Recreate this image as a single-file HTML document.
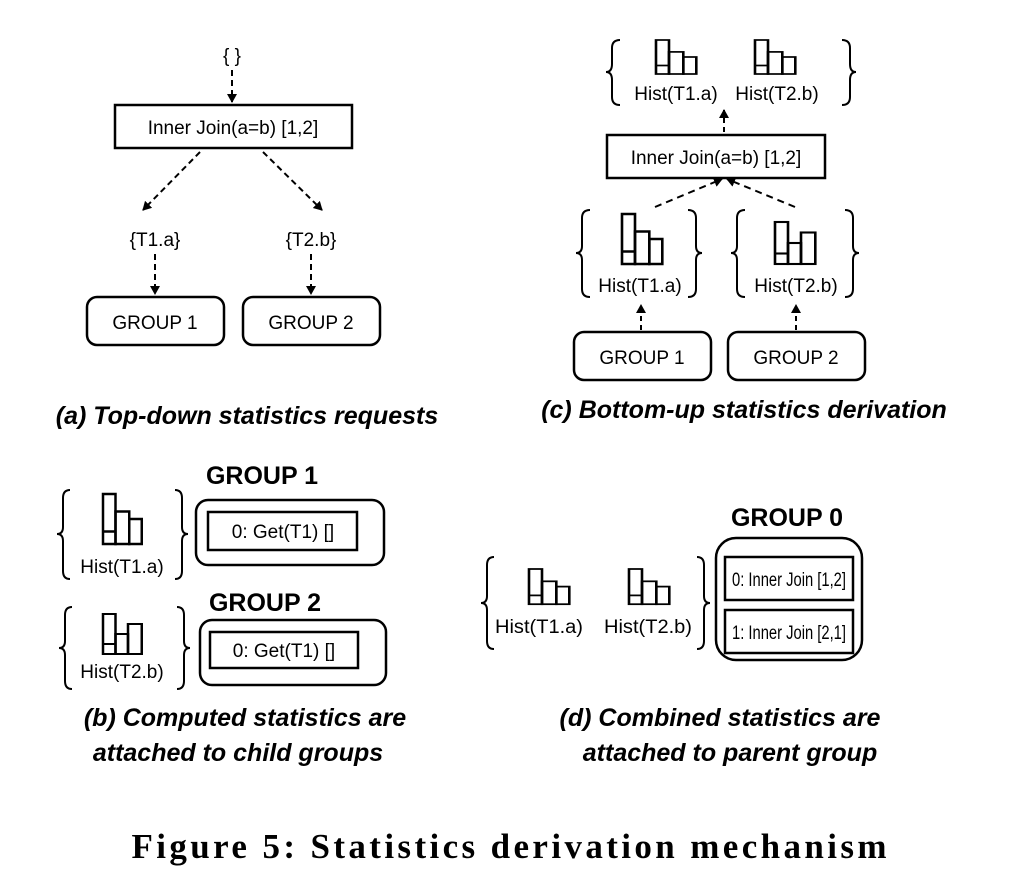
<!DOCTYPE html>
<html><head><meta charset="utf-8"><style>
html,body{margin:0;padding:0;background:#fff}
svg{display:block}
text{font-family:"Liberation Sans",sans-serif;fill:#000}
.l{font-size:19px;text-anchor:middle}
.cap{font-size:25px;font-weight:bold;font-style:italic;text-anchor:middle}
.g{font-size:25px;font-weight:bold;text-anchor:middle}
</style></head><body>
<svg width="1018" height="896" viewBox="0 0 1018 896" xmlns="http://www.w3.org/2000/svg">
<defs>
<marker id="ar" markerWidth="12" markerHeight="12" refX="8" refY="5" orient="auto" markerUnits="userSpaceOnUse">
<path d="M0,0 L9,5 L0,10 Z" fill="#000"/></marker>
<g id="h1" fill="none" stroke="#000" stroke-width="2">
<rect x="0" y="0" width="10" height="40"/><rect x="10" y="14" width="11" height="26"/><rect x="21" y="20" width="10" height="20"/><line x1="0" y1="30" x2="10" y2="30"/></g>
<g id="h2" fill="none" stroke="#000" stroke-width="2">
<rect x="0" y="0" width="10" height="40"/><rect x="10" y="20" width="10" height="20"/><rect x="20" y="10" width="11" height="30"/><line x1="0" y1="30" x2="10" y2="30"/></g>
</defs>
<g fill="none" stroke="#000" stroke-width="2">
<line x1="232" y1="70" x2="232" y2="102" stroke-dasharray="6,4" marker-end="url(#ar)"/>
<rect x="115" y="105" width="237" height="43" stroke-width="2.5"/>
<line x1="200" y1="152" x2="143" y2="210" stroke-dasharray="6,4" marker-end="url(#ar)"/>
<line x1="263" y1="152" x2="322" y2="210" stroke-dasharray="6,4" marker-end="url(#ar)"/>
<line x1="155" y1="254" x2="155" y2="294" stroke-dasharray="6,4" marker-end="url(#ar)"/>
<line x1="311" y1="254" x2="311" y2="294" stroke-dasharray="6,4" marker-end="url(#ar)"/>
<rect x="87" y="297" width="137" height="48" rx="10" stroke-width="2.5"/>
<rect x="243" y="297" width="137" height="48" rx="10" stroke-width="2.5"/>
<path d="M620,40 Q612,40 612,48 L612,64 Q612,72 606,72 Q612,72 612,80 L612,97 Q612,105 620,105"/>
<path d="M842,40 Q850,40 850,48 L850,64 Q850,72 856,72 Q850,72 850,80 L850,97 Q850,105 842,105"/>
<line x1="724" y1="132" x2="724" y2="110" stroke-dasharray="5,4" marker-end="url(#ar)"/>
<rect x="607" y="135" width="218" height="43" stroke-width="2.5"/>
<line x1="655" y1="207" x2="722" y2="179" stroke-dasharray="7,5" marker-end="url(#ar)"/>
<line x1="795" y1="207" x2="727" y2="179" stroke-dasharray="7,5" marker-end="url(#ar)"/>
<path d="M590,210 Q582,210 582,218 L582,246 Q582,253 576,253 Q582,253 582,260 L582,289 Q582,297 590,297"/>
<path d="M688,210 Q696,210 696,218 L696,246 Q696,253 702,253 Q696,253 696,260 L696,289 Q696,297 688,297"/>
<path d="M745,210 Q737,210 737,218 L737,246 Q737,253 731,253 Q737,253 737,260 L737,289 Q737,297 745,297"/>
<path d="M845,210 Q853,210 853,218 L853,246 Q853,253 859,253 Q853,253 853,260 L853,289 Q853,297 845,297"/>
<line x1="641" y1="330" x2="641" y2="305" stroke-dasharray="5,4" marker-end="url(#ar)"/>
<line x1="796" y1="330" x2="796" y2="305" stroke-dasharray="5,4" marker-end="url(#ar)"/>
<rect x="574" y="332" width="137" height="48" rx="10" stroke-width="2.5"/>
<rect x="728" y="332" width="137" height="48" rx="10" stroke-width="2.5"/>
<path d="M70,490 Q63,490 63,498 L63,527 Q63,534 57,534 Q63,534 63,541 L63,571 Q63,579 70,579"/>
<path d="M175,490 Q182,490 182,498 L182,527 Q182,534 188,534 Q182,534 182,541 L182,571 Q182,579 175,579"/>
<rect x="196" y="500" width="188" height="65" rx="12" stroke-width="2.5"/>
<rect x="208" y="512" width="149" height="38" stroke-width="2.5"/>
<path d="M72,607 Q65,607 65,615 L65,641 Q65,648 59,648 Q65,648 65,655 L65,681 Q65,689 72,689"/>
<path d="M177,607 Q184,607 184,615 L184,641 Q184,648 190,648 Q184,648 184,655 L184,681 Q184,689 177,689"/>
<rect x="200" y="620" width="186" height="65" rx="12" stroke-width="2.5"/>
<rect x="210" y="632" width="148" height="36" stroke-width="2.5"/>
<path d="M494,557 Q487,557 487,565 L487,596 Q487,603 481,603 Q487,603 487,610 L487,641 Q487,649 494,649"/>
<path d="M697,557 Q704,557 704,565 L704,596 Q704,603 710,603 Q704,603 704,610 L704,641 Q704,649 697,649"/>
<rect x="716" y="538" width="146" height="122" rx="20" stroke-width="2.5"/>
<rect x="725" y="557" width="128" height="43" stroke-width="2.5"/>
<rect x="725" y="610" width="128" height="43" stroke-width="2.5"/>
</g>
<use href="#h1" transform="translate(656,40) scale(1.3,0.85)"/>
<use href="#h1" transform="translate(755,40) scale(1.3,0.85)"/>
<use href="#h1" transform="translate(622,214) scale(1.3,1.25)"/>
<use href="#h2" transform="translate(775,222) scale(1.3,1.05)"/>
<use href="#h1" transform="translate(103,494) scale(1.25,1.25)"/>
<use href="#h2" transform="translate(103,614) scale(1.25,1)"/>
<use href="#h1" transform="translate(529,569) scale(1.3,0.88)"/>
<use href="#h1" transform="translate(629,569) scale(1.3,0.88)"/>
<text class="l" x="232" y="62">{ }</text>
<text class="l" x="233" y="134">Inner Join(a=b) [1,2]</text>
<text class="l" x="155" y="246">{T1.a}</text>
<text class="l" x="311" y="246">{T2.b}</text>
<text class="l" x="155" y="329">GROUP 1</text>
<text class="l" x="311" y="329">GROUP 2</text>
<text class="cap" x="247" y="424">(a) Top-down statistics requests</text>
<text class="l" x="676" y="100">Hist(T1.a)</text>
<text class="l" x="777" y="100">Hist(T2.b)</text>
<text class="l" x="716" y="164">Inner Join(a=b) [1,2]</text>
<text class="l" x="640" y="292">Hist(T1.a)</text>
<text class="l" x="796" y="292">Hist(T2.b)</text>
<text class="l" x="642" y="364">GROUP 1</text>
<text class="l" x="796" y="364">GROUP 2</text>
<text class="cap" x="744" y="418">(c) Bottom-up statistics derivation</text>
<text class="g" x="262" y="484">GROUP 1</text>
<text class="l" x="122" y="573">Hist(T1.a)</text>
<text class="l" x="283" y="538">0: Get(T1) []</text>
<text class="g" x="265" y="611">GROUP 2</text>
<text class="l" x="122" y="678">Hist(T2.b)</text>
<text class="l" x="284" y="657">0: Get(T1) []</text>
<text class="cap" x="245" y="726">(b) Computed statistics are</text>
<text class="cap" x="238" y="761">attached to child groups</text>
<text class="g" x="787" y="526">GROUP 0</text>
<text class="l" x="539" y="633" textLength="88" lengthAdjust="spacingAndGlyphs">Hist(T1.a)</text>
<text class="l" x="648" y="633" textLength="88" lengthAdjust="spacingAndGlyphs">Hist(T2.b)</text>
<text class="l" x="789" y="586" textLength="114" lengthAdjust="spacingAndGlyphs">0: Inner Join [1,2]</text>
<text class="l" x="789" y="639" textLength="114" lengthAdjust="spacingAndGlyphs">1: Inner Join [2,1]</text>
<text class="cap" x="720" y="726">(d) Combined statistics are</text>
<text class="cap" x="730" y="761">attached to parent group</text>
<text x="509" y="858" style="font-family:'Liberation Serif',serif;font-weight:bold;font-size:35px" text-anchor="middle" textLength="755" lengthAdjust="spacing">Figure 5:  Statistics derivation mechanism</text>
</svg>
</body></html>
